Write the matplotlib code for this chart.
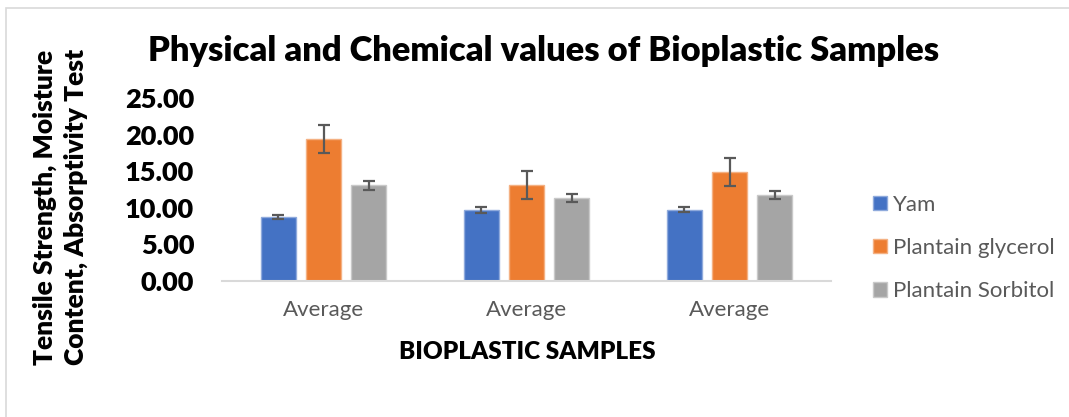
import matplotlib
matplotlib.use("Agg")
import matplotlib.pyplot as plt
import numpy as np
from matplotlib.patches import Rectangle

plt.rcParams['font.family'] = ['Lato', 'DejaVu Sans']

categories = ["Average", "Average", "Average"]
series_names = ["Yam", "Plantain glycerol", "Plantain Sorbitol"]
yam = [8.75, 9.70, 9.72]
plantain_glycerol = [19.45, 13.15, 14.88]
plantain_sorbitol = [13.05, 11.37, 11.78]
yam_err = [0.30, 0.35, 0.35]
glycerol_err = [1.90, 1.90, 1.90]
sorbitol_err = [0.55, 0.55, 0.55]
yticks = [0, 5, 10, 15, 20, 25]

colors = ["#4472C4", "#ED7D31", "#A5A5A5"]
edges = ["#8FAADC", "#F4B183", "#C9C9C9"]

fig = plt.figure(figsize=(10.69, 4.17), dpi=100)
fig.patches.append(Rectangle((6/1069, -0.1), 1.2, 1 - 8/417 + 0.1, transform=fig.transFigure,
                             fill=False, edgecolor="#D9D9D9", linewidth=1.2))
ax = fig.add_axes([222/1069, 1 - 281/417, (831-222)/1069, (281-98)/417])

x = np.arange(len(categories))
w = 0.175
off = 0.222
data = [yam, plantain_glycerol, plantain_sorbitol]
errs = [yam_err, glycerol_err, sorbitol_err]
for k in range(3):
    ax.bar(x + (k - 1) * off, data[k], w, color=colors[k], edgecolor=edges[k], linewidth=1,
           label=series_names[k], zorder=2)
    ax.errorbar(x + (k - 1) * off, data[k], yerr=errs[k], fmt="none", ecolor="#595959",
                elinewidth=1.6, capsize=4.3, capthick=1.6, zorder=3)

ax.set_xlim(-0.5, 2.5)
ax.set_ylim(0, 25)
ax.set_yticks(yticks)
ax.set_yticklabels([f"{v:.2f}" for v in yticks], fontsize=19.5, fontweight="heavy")
ax.set_xticks(x)
ax.set_xticklabels(categories, fontsize=16, color="#595959")
ax.tick_params(axis="y", length=0, pad=20)
ax.tick_params(axis="x", length=0, pad=14)
for s in ["top", "right", "left"]:
    ax.spines[s].set_visible(False)
ax.spines["bottom"].set_color("#D9D9D9")
ax.spines["bottom"].set_linewidth(1.5)

fig.text(544/1069, 1 - 51/417, "Physical and Chemical values of Bioplastic Samples",
         ha="center", va="center", fontsize=24.8, fontweight="heavy")
fig.text(527/1069, 1 - 352/417, "BIOPLASTIC SAMPLES", ha="center", va="center",
         fontsize=17.5, fontweight="heavy")
fig.text(45/1069, 1 - 207/417, "Tensile Strength, Moisture", rotation=90, ha="center", va="center",
         fontsize=19, fontweight="heavy")
fig.text(76/1069, 1 - 207/417, "Content, Absorptivity Test", rotation=90, ha="center", va="center",
         fontsize=19, fontweight="heavy")

leg = ax.legend(loc="center left", bbox_to_anchor=(853/1069, 1 - 248/417), bbox_transform=fig.transFigure,
                frameon=False, fontsize=16, handlelength=0.62, handleheight=0.62, handletextpad=0.3,
                labelspacing=1.05, labelcolor="#595959")

fig.savefig("out.png", dpi=100)
